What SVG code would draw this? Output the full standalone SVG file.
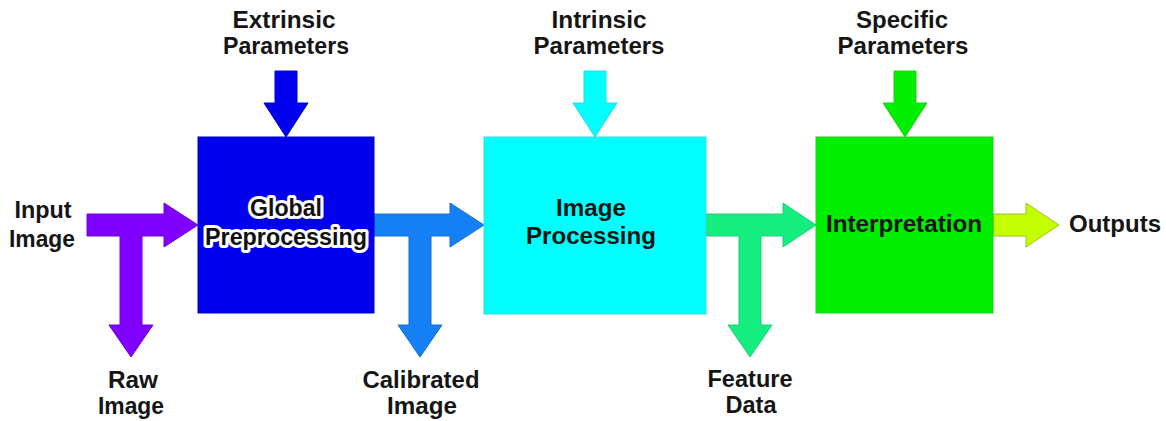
<svg xmlns="http://www.w3.org/2000/svg" width="1166" height="421" viewBox="0 0 1166 421">
  <style>
    .t { font-family: "Liberation Sans", Arial, sans-serif; font-weight: bold; font-size: 23px; fill: #151515; text-anchor: middle; }
    .halo { fill: #111; stroke: #ffffff; stroke-width: 6px; stroke-linejoin: round; paint-order: stroke; }
    .box { stroke-width: 1; }
    .arr { stroke-width: 1; stroke-linejoin: miter; }
  </style>
  <rect width="1166" height="421" fill="#ffffff"/>

  <g id="connectors">
    <polygon id="extrinsic-arrow" class="arr" fill="#0000ee" stroke="#0000d0" points="275,71 297,71 297,103 308,103 286,137 264,103 275,103"/>
    <polygon id="intrinsic-arrow" class="arr" fill="#00ffff" stroke="#22dddd" points="584,71 606,71 606,103 617,103 595,137 573,103 584,103"/>
    <polygon id="specific-arrow" class="arr" fill="#00ee00" stroke="#22cc22" points="894,71 916,71 916,103 927,103 905,137 883,103 894,103"/>
    <polygon id="input-arrow" class="arr" fill="#8000ff" stroke="#7000e0" points="87,214 164,214 164,203 198,225 164,247 164,236 142,236 142,325 153,325 131,357 109,325 120,325 120,236 87,236"/>
    <polygon id="calibrated-arrow" class="arr" fill="#1480f4" stroke="#1070d8" points="374,214 450,214 450,203 484,225 450,247 450,236 431,236 431,325 442,325 420,357 398,325 409,325 409,236 374,236"/>
    <polygon id="feature-arrow" class="arr" fill="#14ee80" stroke="#22cc77" points="706,214 783,214 783,203 816,225 783,247 783,236 761,236 761,325 772,325 750,357 728,325 739,325 739,236 706,236"/>
    <polygon id="output-arrow" class="arr" fill="#c4ff00" stroke="#a0c020" points="993,214 1026,214 1026,203 1059,225 1026,247 1026,236 993,236"/>
  </g>

  <g id="node-global-preprocessing">
    <rect class="box" x="198" y="137" width="176" height="176" fill="#0000ee" stroke="#0000cc"/>
    <text class="t halo" x="286" y="216" textLength="72" lengthAdjust="spacingAndGlyphs">Global</text>
    <text class="t halo" x="286" y="245" textLength="162" lengthAdjust="spacingAndGlyphs">Preprocessing</text>
  </g>

  <g id="node-image-processing">
    <rect class="box" x="484" y="137" width="222" height="177" fill="#00ffff" stroke="#33dddd"/>
    <text class="t" x="591" y="216" textLength="70" lengthAdjust="spacingAndGlyphs">Image</text>
    <text class="t" x="591" y="244" textLength="130" lengthAdjust="spacingAndGlyphs">Processing</text>
  </g>

  <g id="node-interpretation">
    <rect class="box" x="816" y="137" width="177" height="176" fill="#00ee00" stroke="#22cc22"/>
    <text class="t" x="904" y="232" textLength="156" lengthAdjust="spacingAndGlyphs">Interpretation</text>
  </g>

  <g id="labels">
    <text class="t" x="284" y="28" textLength="103" lengthAdjust="spacingAndGlyphs">Extrinsic</text>
    <text class="t" x="286" y="54" textLength="126" lengthAdjust="spacingAndGlyphs">Parameters</text>
    <text class="t" x="599" y="28" textLength="95" lengthAdjust="spacingAndGlyphs">Intrinsic</text>
    <text class="t" x="599" y="54" textLength="131" lengthAdjust="spacingAndGlyphs">Parameters</text>
    <text class="t" x="902" y="28" textLength="92" lengthAdjust="spacingAndGlyphs">Specific</text>
    <text class="t" x="903" y="54" textLength="131" lengthAdjust="spacingAndGlyphs">Parameters</text>

    <text class="t" x="43" y="218" textLength="57" lengthAdjust="spacingAndGlyphs">Input</text>
    <text class="t" x="42" y="247" textLength="66" lengthAdjust="spacingAndGlyphs">Image</text>

    <text class="t" x="133" y="388" textLength="50" lengthAdjust="spacingAndGlyphs">Raw</text>
    <text class="t" x="131" y="414" textLength="66" lengthAdjust="spacingAndGlyphs">Image</text>

    <text class="t" x="421" y="388" textLength="117" lengthAdjust="spacingAndGlyphs">Calibrated</text>
    <text class="t" x="422" y="414" textLength="70" lengthAdjust="spacingAndGlyphs">Image</text>

    <text class="t" x="750" y="387" textLength="85" lengthAdjust="spacingAndGlyphs">Feature</text>
    <text class="t" x="751" y="413" textLength="51" lengthAdjust="spacingAndGlyphs">Data</text>

    <text class="t" x="1115" y="232" textLength="92" lengthAdjust="spacingAndGlyphs">Outputs</text>
  </g>
</svg>
